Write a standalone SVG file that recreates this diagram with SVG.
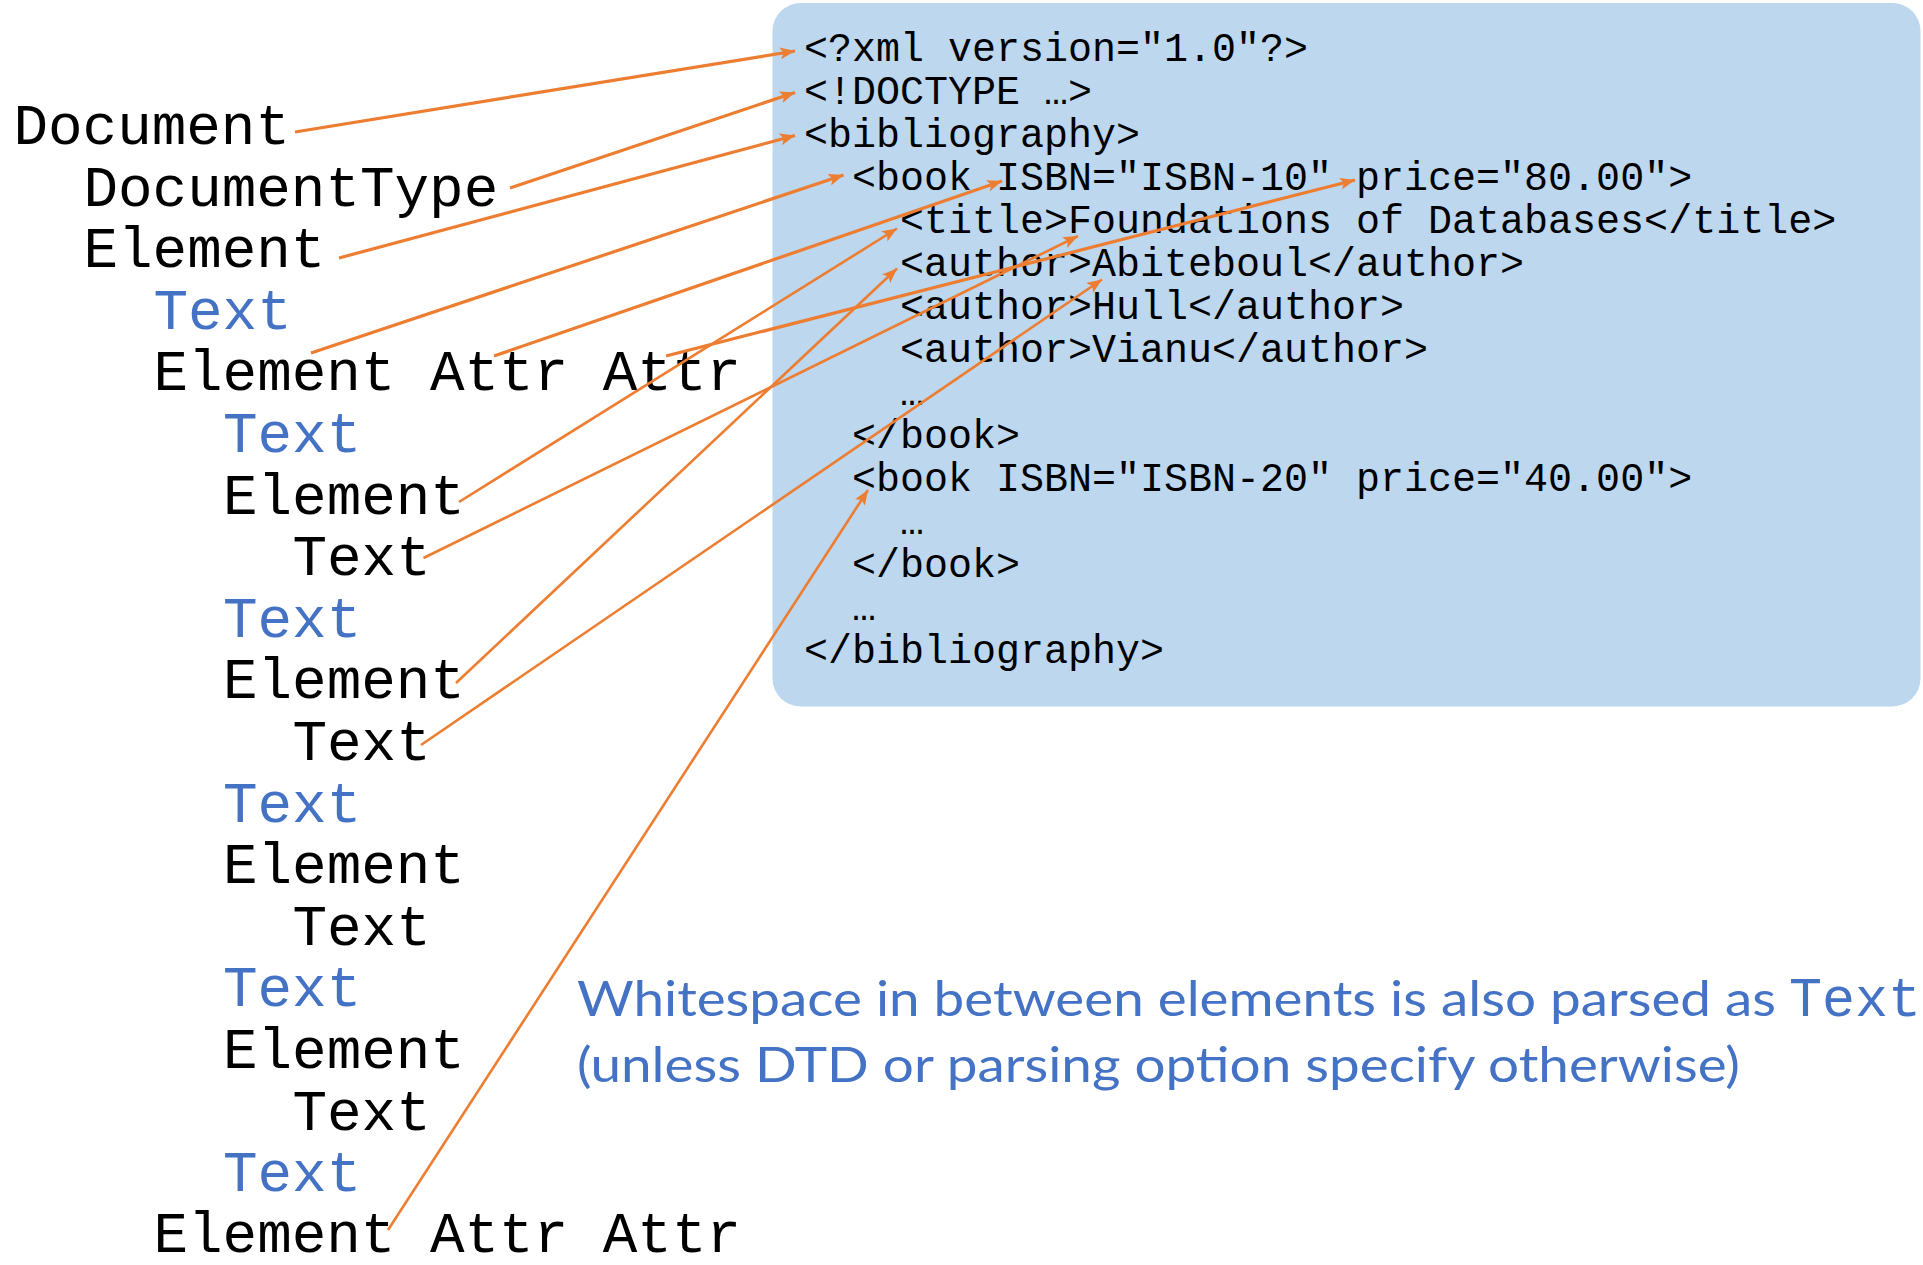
<svg xmlns="http://www.w3.org/2000/svg" width="1923" height="1265" viewBox="0 0 1923 1265">
<style>
.tree{font-family:"Liberation Mono",monospace;font-size:57.6px;fill:#000}
.ws{fill:#4472C4}
.xml{font-family:"Liberation Mono",monospace;font-size:40px;fill:#000}
.note{font-family:Lato,"Open Sans",sans-serif;font-size:48px;fill:#4472C4}
.notemono{font-family:"Liberation Mono",monospace;font-size:55px;fill:#4472C4}
.c{stroke:#ED7D31;fill:none;marker-end:url(#ah)}
.c1{stroke-width:3.2}
.c2{stroke-width:2.6}
</style>
<defs>
<marker id="ah" markerUnits="userSpaceOnUse" markerWidth="16" markerHeight="13" refX="15" refY="6" orient="auto">
<path d="M0,0 L15,6 L0,12 L3.5,6 Z" fill="#ED7D31"/>
</marker>
</defs>
<rect id="xml-box" x="772.5" y="3" width="1148" height="703.5" rx="28" fill="#BDD7EE"/>
<g id="xml-source" class="xml">
<text x="804" y="61">&lt;?xml version="1.0"?&gt;</text>
<text x="804" y="104">&lt;!DOCTYPE …&gt;</text>
<text x="804" y="147">&lt;bibliography&gt;</text>
<text x="852" y="190">&lt;book ISBN="ISBN-10" price="80.00"&gt;</text>
<text x="900" y="233">&lt;title&gt;Foundations of Databases&lt;/title&gt;</text>
<text x="900" y="276">&lt;author&gt;Abiteboul&lt;/author&gt;</text>
<text x="900" y="319">&lt;author&gt;Hull&lt;/author&gt;</text>
<text x="900" y="362">&lt;author&gt;Vianu&lt;/author&gt;</text>
<text x="900" y="405">…</text>
<text x="852" y="448">&lt;/book&gt;</text>
<text x="852" y="491">&lt;book ISBN="ISBN-20" price="40.00"&gt;</text>
<text x="900" y="534">…</text>
<text x="852" y="577">&lt;/book&gt;</text>
<text x="852" y="620">…</text>
<text x="804" y="663">&lt;/bibliography&gt;</text>
</g>
<g id="tree" class="tree">
<g id="n-document"><text x="13.5" y="144">Document</text></g>
<g id="n-doctype"><text x="83.5" y="205.6">DocumentType</text></g>
<g id="n-el-bib"><text x="83.5" y="267.2">Element</text></g>
<g id="n-ws1"><text class="ws" x="153.5" y="328.8">Text</text></g>
<g id="n-el-book1"><text x="153.5" y="390.4">Element Attr Attr</text></g>
<g id="n-ws2"><text class="ws" x="223" y="452">Text</text></g>
<g id="n-el-title"><text x="223" y="513.6">Element</text></g>
<g id="n-t-title"><text x="292.5" y="575.2">Text</text></g>
<g id="n-ws3"><text class="ws" x="223" y="636.8">Text</text></g>
<g id="n-el-a1"><text x="223" y="698.4">Element</text></g>
<g id="n-t-a1"><text x="292.5" y="760">Text</text></g>
<g id="n-ws4"><text class="ws" x="223" y="821.6">Text</text></g>
<g id="n-el-a2"><text x="223" y="883.2">Element</text></g>
<g id="n-t-a2"><text x="292.5" y="944.8">Text</text></g>
<g id="n-ws5"><text class="ws" x="223" y="1006.4">Text</text></g>
<g id="n-el-a3"><text x="223" y="1068">Element</text></g>
<g id="n-t-a3"><text x="292.5" y="1129.6">Text</text></g>
<g id="n-ws6"><text class="ws" x="223" y="1191.2">Text</text></g>
<g id="n-el-book2"><text x="153.5" y="1251.5">Element Attr Attr</text></g>
</g>
<g id="connectors">
<line class="c c1" x1="295" y1="132" x2="795" y2="51"/>
<line class="c c1" x1="510" y1="188" x2="795" y2="92.5"/>
<line class="c c1" x1="339" y1="258" x2="795" y2="135.5"/>
<line class="c c1" x1="311" y1="353" x2="843.5" y2="175"/>
<line class="c c1" x1="494" y1="356" x2="1002" y2="181"/>
<line class="c c1" x1="666" y1="356" x2="1355" y2="180"/>
<line class="c c2" x1="459" y1="502" x2="897" y2="228.5"/>
<line class="c c2" x1="423.5" y1="558" x2="1078" y2="236"/>
<line class="c c2" x1="456" y1="683" x2="897" y2="268.5"/>
<line class="c c2" x1="421" y1="745" x2="1102" y2="279.5"/>
<line class="c c2" x1="388" y1="1230" x2="868" y2="490"/>
</g>
<g id="note">
<text class="note" x="577" y="1016" textLength="1199" lengthAdjust="spacingAndGlyphs">Whitespace in between elements is also parsed as</text>
<text class="notemono" x="1789" y="1016">Text</text>
<text class="note" x="577" y="1082" textLength="1163" lengthAdjust="spacingAndGlyphs">(unless DTD or parsing option specify otherwise)</text>
</g>
</svg>
